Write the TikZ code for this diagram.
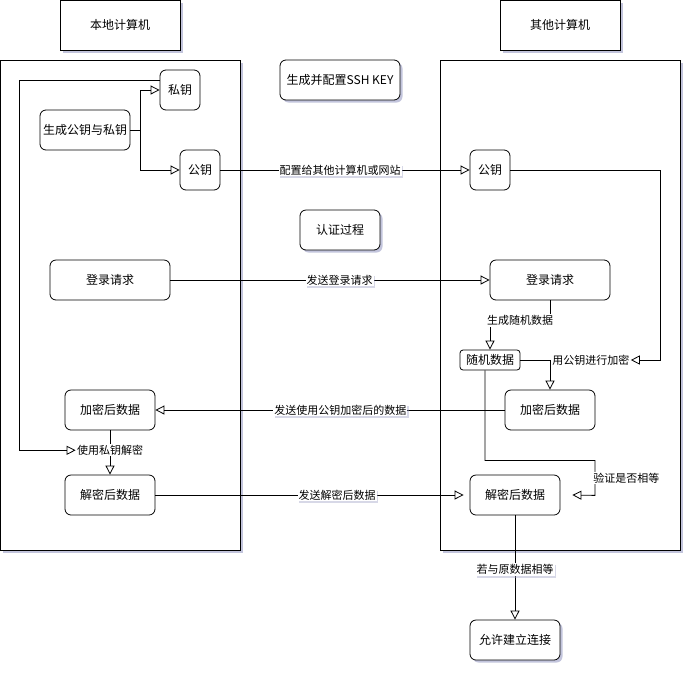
\documentclass[tikz,border=0pt]{standalone}
\usepackage{fontspec}
\setmainfont{Noto Sans CJK SC}
\usepackage{xcolor}
\usepackage{tikz}
\usetikzlibrary{arrows.meta,positioning,shadows,calc}
\definecolor{shade}{HTML}{9A9DC4}
\tikzset{
  vshadow/.style={drop shadow={shadow xshift=2.5pt,shadow yshift=-2.5pt,fill=shade,opacity=0.6}},
  vlshadow/.style={drop shadow={shadow xshift=1.5pt,shadow yshift=-2pt,fill=shade,opacity=0.4}},
  vlane/.style={draw,line width=0.8pt,fill=white,minimum width=240pt,minimum height=490pt,vshadow},
  vhead/.style={draw,line width=0.8pt,fill=white,minimum width=120pt,minimum height=50pt,vshadow},
  vbox/.style={draw,line width=0.8pt,fill=white,rounded corners=6pt,minimum height=40pt,inner sep=0pt},
  vlab/.style={fill=white,font=\fontsize{11}{13}\selectfont,inner sep=1pt},
  varr/.style={-{Triangle[open,length=9pt,width=9pt]},line width=0.8pt}
}

\begin{document}
\begin{tikzpicture}[x=1pt,y=-1pt,font=\fontsize{12}{14}\selectfont]
  \useasboundingbox (0,0) rectangle (693,673);
  % the two machines
  \node[vhead] (headL) at (120,25) {本地计算机};
  \node[vhead] (headR) at (560,25) {其他计算机};
  \node[vlane] (laneL) at (120.5,305) {};
  \node[vlane] (laneR) at (560,305) {};
  \node[vbox,minimum width=120pt,vshadow] (ssh) at (340,80) {生成并配置SSH KEY};
  \node[vbox,minimum width=80pt,vshadow] (auth) at (340,230) {认证过程};
  % local side
  \node[vbox,minimum width=40pt] (privL) at (180,90) {私钥};
  \node[vbox,minimum width=90pt] (genL) at (85,130) {生成公钥与私钥};
  \node[vbox,minimum width=40pt] (pubL) at (200,170) {公钥};
  \node[vbox,minimum width=120pt] (loginL) at (110,280) {登录请求};
  \node[vbox,minimum width=90pt] (encL) at (110,410) {加密后数据};
  \node[vbox,minimum width=90pt] (decL) at (110,495) {解密后数据};
  % other side
  \node[vbox,minimum width=40pt] (pubR) at (490,170) {公钥};
  \node[vbox,minimum width=120pt] (loginR) at (550,280) {登录请求};
  \node[vbox,minimum width=60pt,minimum height=20pt,rounded corners=3pt] (rand) at (490,360) {随机数据};
  \node[vbox,minimum width=90pt] (encR) at (550,410) {加密后数据};
  \node[vbox,minimum width=90pt] (decR) at (515,495) {解密后数据};
  \node[vbox,minimum width=90pt,vshadow] (allow) at (515,640) {允许建立连接};
  \coordinate (chk) at ([xshift=12pt]decR.east);
  % key setup
  \draw[varr] (genL.east) -- ++(10,0) |- (privL.west);
  \draw[varr] (genL.east) -- ++(10,0) |- (pubL.west);
  \draw[varr] (pubL) -- node[vlab,vlshadow,pos=0.48] (lab1) {配置给其他计算机或网站} (pubR);
  % login
  \draw[varr] (loginL) -- node[vlab,vlshadow,pos=0.53] (lab2) {发送登录请求} (loginR);
  \draw[varr] (loginR.south) -- ++(0,20) -| node[vlab,pos=0.25] (lab3) {生成随机数据} (rand.north);
  \draw[varr] (rand.east) -| node[vlab,pos=0.5,anchor=west,xshift=1pt] (lab4) {用公钥进行加密} (encR.north);
  \draw[varr] (pubR.east) -- ++(150,0) |- (lab4.east);
  \draw[varr] (encR) -- node[vlab,vlshadow,pos=0.47] (lab5) {发送使用公钥加密后的数据} (encL);
  \draw[varr] (encL) -- node[vlab,pos=0.45] (lab6) {使用私钥解密} (decL);
  \draw[varr] ([yshift=10pt]privL.west) -- ++(-140,0) |- (lab6.west);
  % check
  \draw[varr] (decL) -- node[vlab,vlshadow,pos=0.59] (lab8) {发送解密后数据} ([xshift=-6pt]decR.west);
  \draw[varr] ([xshift=-5pt]rand.south) -- ++(0,90) -- ++(110,0) -- node[vlab,anchor=west,xshift=-3pt] (lab7) {验证是否相等} ++(0,35) -- (chk);
  \draw[varr] (decR) -- node[vlab,vlshadow,pos=0.52] (lab9) {若与原数据相等} (allow);
\end{tikzpicture}
\end{document}
